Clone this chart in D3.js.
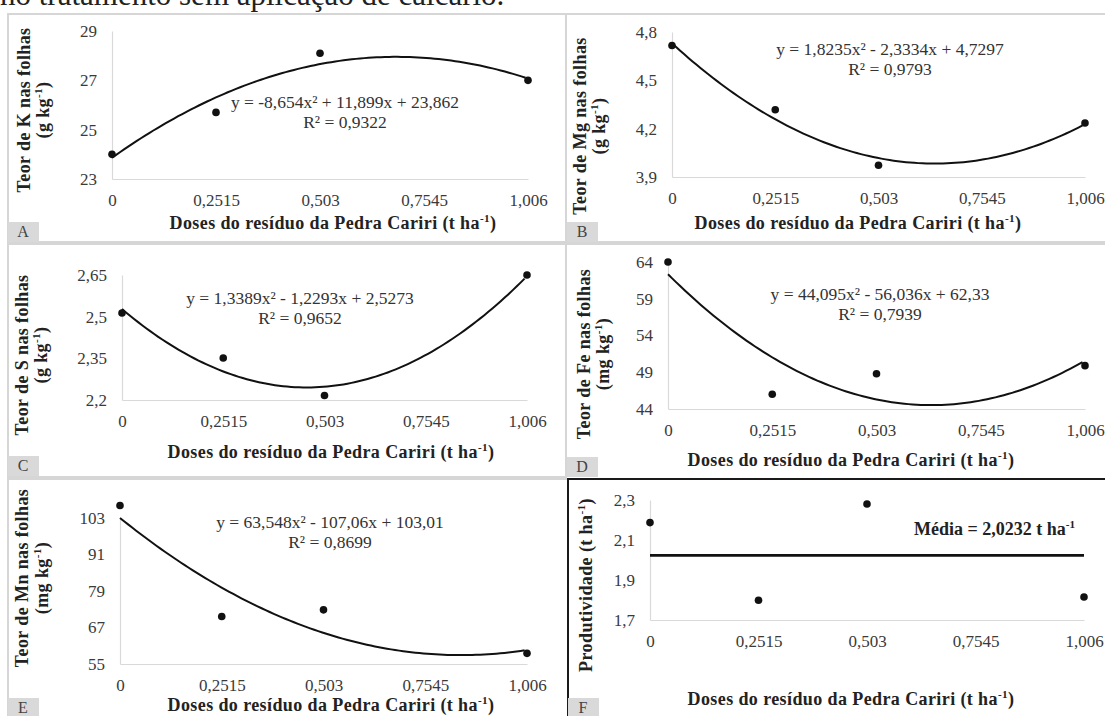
<!DOCTYPE html>
<html lang="pt">
<head>
<meta charset="UTF-8">
<title>Teores foliares e produtividade</title>
<script src="https://d3js.org/d3.v7.min.js"></script>
<style>
  body { margin: 0; background: #fff; }
  svg text { font-family: "Liberation Serif", "Times New Roman", serif; }
</style>
</head>
<body>
<script>
// doses do resíduo (t ha-1)
const doses = [0, 0.2515, 0.503, 1.006];
const xTicks = [0, 0.2515, 0.503, 0.7545, 1.006];
const xTickLabels = ["0", "0,2515", "0,503", "0,7545", "1,006"];

// valores observados
const kVals = [24.0, 25.7, 28.1, 27.0];
const mgVals = [4.716, 4.317, 3.973, 4.235];
const sVals = [2.513, 2.351, 2.216, 2.65];
const feVals = [64.0, 46.0, 48.8, 49.9];
const mnVals = [107.1, 70.6, 72.8, 58.5];
const prodVals = [2.187, 1.799, 2.28, 1.815];
const prodMean = 2.0232;

// eixos y
const kTicks = [23, 25, 27, 29];
const kTickLabels = ["23", "25", "27", "29"];
const mgTicks = [3.9, 4.2, 4.5, 4.8];
const mgTickLabels = ["3,9", "4,2", "4,5", "4,8"];
const sTicks = [2.2, 2.35, 2.5, 2.65];
const sTickLabels = ["2,2", "2,35", "2,5", "2,65"];
const feTicks = [44, 49, 54, 59, 64];
const feTickLabels = ["44", "49", "54", "59", "64"];
const mnTicks = [55, 67, 79, 91, 103];
const mnTickLabels = ["55", "67", "79", "91", "103"];
const prodTicks = [1.7, 1.9, 2.1, 2.3];
const prodTickLabels = ["1,7", "1,9", "2,1", "2,3"];

// coeficientes das regressões (a, b, c) de y = a x² + b x + c
const kCoef = [-8.654, 11.899, 23.862];
const mgCoef = [1.8235, -2.3334, 4.7297];
const sCoef = [1.3389, -1.2293, 2.5273];
const feCoef = [44.095, -56.036, 62.33];
const mnCoef = [63.548, -107.06, 103.01];

const width = 1105, height = 716;
const svg = d3.select("body").append("svg")
  .attr("width", width)
  .attr("height", height);

// linha de texto de cima (cortada na borda)
svg.append("text")
  .attr("x", 0).attr("y", 5)
  .attr("font-size", 31)
  .attr("fill", "#222")
  .text("no tratamento sem aplicação de calcário.");

const panels = [
  { id: "A", box: [8, 14, 566, 242], x0: 112, x1: 528, yTop: 31, yBot: 179,
    ticks: kTicks, labels: kTickLabels, vals: kVals, coef: kCoef,
    eq: "y = -8,654x² + 11,899x + 23,862", r2: "R² = 0,9322", eqX: 345, eqY: 108,
    yt: ["Teor de K nas folhas", "(g kg", ")"], ytX: [30, 49], ytY: 110, xtX: 333, xtY: 229 },
  { id: "B", box: [566, 14, 1106, 242], x0: 672, x1: 1085, yTop: 32, yBot: 177,
    ticks: mgTicks, labels: mgTickLabels, vals: mgVals, coef: mgCoef,
    eq: "y = 1,8235x² - 2,3334x + 4,7297", r2: "R² = 0,9793", eqX: 890, eqY: 55,
    yt: ["Teor de Mg nas folhas", "(g kg", ")"], ytX: [586, 605], ytY: 126, xtX: 858, xtY: 229 },
  { id: "C", box: [8, 244, 566, 477], x0: 122, x1: 527, yTop: 275, yBot: 400,
    ticks: sTicks, labels: sTickLabels, vals: sVals, coef: sCoef,
    eq: "y = 1,3389x² - 1,2293x + 2,5273", r2: "R² = 0,9652", eqX: 300, eqY: 304,
    yt: ["Teor de S nas folhas", "(g kg", ")"], ytX: [28, 47], ytY: 355, xtX: 331, xtY: 458 },
  { id: "D", box: [566, 244, 1106, 479], x0: 668, x1: 1085, yTop: 262, yBot: 409,
    ticks: feTicks, labels: feTickLabels, vals: feVals, coef: feCoef,
    eq: "y = 44,095x² - 56,036x + 62,33", r2: "R² = 0,7939", eqX: 880, eqY: 300,
    yt: ["Teor de Fe nas folhas", "(mg kg", ")"], ytX: [590, 609], ytY: 354, xtX: 851, xtY: 466 },
  { id: "E", box: [8, 479, 568, 722], x0: 120, x1: 527, yTop: 518, yBot: 664,
    ticks: mnTicks, labels: mnTickLabels, vals: mnVals, coef: mnCoef,
    eq: "y = 63,548x² - 107,06x + 103,01", r2: "R² = 0,8699", eqX: 330, eqY: 528,
    yt: ["Teor de Mn nas folhas", "(mg kg", ")"], ytX: [28, 48], ytY: 578, xtX: 331, xtY: 711 },
  { id: "F", box: [568, 479, 1108, 722], x0: 650, x1: 1084, yTop: 500, yBot: 620, dark: true,
    ticks: prodTicks, labels: prodTickLabels, vals: prodVals, mean: prodMean,
    yt: ["Produtividade (t ha", ")"], ytX: [592], ytY: 585, xtX: 851, xtY: 705 }
];

const labelBoxes = { A: [8, 222], B: [567, 222], C: [8, 456], D: [567, 457], E: [8, 698], F: [568, 698] };

function addTitle(sel, parts, fs) {
  sel.append("tspan").text(parts[0]);
  sel.append("tspan").attr("font-size", fs * 0.62).attr("dy", -7).text("-1");
  sel.append("tspan").attr("dy", 7).text(parts[1]);
}

panels.forEach(p => {
  const g = svg.append("g");

  g.append("rect")
    .attr("x", p.box[0]).attr("y", p.box[1])
    .attr("width", p.box[2] - p.box[0]).attr("height", p.box[3] - p.box[1])
    .attr("fill", "none")
    .attr("stroke", p.dark ? "#1a1a1a" : "#d6d6d6")
    .attr("stroke-width", 2);

  const x = d3.scaleLinear().domain([0, 1.006]).range([p.x0, p.x1]);
  const y = d3.scaleLinear()
    .domain([p.ticks[0], p.ticks[p.ticks.length - 1]])
    .range([p.yBot, p.yTop]);

  const xAxis = g.append("g")
    .attr("transform", `translate(0,${p.yBot})`)
    .call(d3.axisBottom(x).tickValues(xTicks)
      .tickFormat((d, i) => xTickLabels[i]).tickSize(0).tickPadding(15));
  const yAxis = g.append("g")
    .attr("transform", `translate(${p.x0},0)`)
    .call(d3.axisLeft(y).tickValues(p.ticks)
      .tickFormat((d, i) => p.labels[i]).tickSize(0).tickPadding(15));

  [xAxis, yAxis].forEach(a => {
    a.select(".domain").attr("stroke", "#d9d9d9").attr("stroke-width", 1.2);
    a.selectAll("text")
      .attr("font-family", "Liberation Serif")
      .attr("font-size", 17)
      .attr("fill", "#3a3a3a");
  });

  // curva de regressão ou linha da média
  if (p.coef) {
    const line = d3.line()
      .x(d => x(d))
      .y(d => y(p.coef[0] * d * d + p.coef[1] * d + p.coef[2]));
    g.append("path")
      .datum(d3.range(0, 1.0061, 0.01))
      .attr("d", line)
      .attr("fill", "none")
      .attr("stroke", "#111")
      .attr("stroke-width", 2);
  } else {
    g.append("line")
      .attr("x1", x(0)).attr("x2", x(1.006))
      .attr("y1", y(p.mean)).attr("y2", y(p.mean))
      .attr("stroke", "#111")
      .attr("stroke-width", 2.8);
    const t = g.append("text")
      .attr("x", x(1.006) - 9).attr("y", y(2.125))
      .attr("text-anchor", "end")
      .attr("font-size", 18).attr("font-weight", "bold")
      .attr("fill", "#222");
    addTitle(t, ["Média = 2,0232 t ha", ""], 18);
  }

  g.selectAll("circle.pt")
    .data(p.vals)
    .join("circle")
    .attr("class", "pt")
    .attr("cx", (d, i) => x(doses[i]))
    .attr("cy", d => y(d))
    .attr("r", 3.8)
    .attr("fill", "#111");

  if (p.eq) {
    g.append("text")
      .attr("x", p.eqX).attr("y", p.eqY)
      .attr("text-anchor", "middle")
      .attr("font-size", 17.5).attr("fill", "#333")
      .text(p.eq);
    g.append("text")
      .attr("x", p.eqX).attr("y", p.eqY + 20)
      .attr("text-anchor", "middle")
      .attr("font-size", 17.5).attr("fill", "#333")
      .text(p.r2);
  }

  // título do eixo y (rotacionado)
  const tfs = 18;
  if (p.yt.length === 3) {
    g.append("text")
      .attr("transform", `translate(${p.ytX[0]},${p.ytY}) rotate(-90)`)
      .attr("text-anchor", "middle")
      .attr("font-size", tfs).attr("font-weight", "bold").attr("fill", "#222")
      .attr("letter-spacing", 0.4)
      .text(p.yt[0]);
    const t2 = g.append("text")
      .attr("transform", `translate(${p.ytX[1]},${p.ytY}) rotate(-90)`)
      .attr("text-anchor", "middle")
      .attr("font-size", tfs).attr("font-weight", "bold").attr("fill", "#222")
      .attr("letter-spacing", 0.4);
    addTitle(t2, [p.yt[1], p.yt[2]], tfs);
  } else {
    const t = g.append("text")
      .attr("transform", `translate(${p.ytX[0]},${p.ytY}) rotate(-90)`)
      .attr("text-anchor", "middle")
      .attr("font-size", tfs).attr("font-weight", "bold").attr("fill", "#222")
      .attr("letter-spacing", 0.4);
    addTitle(t, p.yt, tfs);
  }

  // título do eixo x
  const xt = g.append("text")
    .attr("x", p.xtX).attr("y", p.xtY)
    .attr("text-anchor", "middle")
    .attr("font-size", tfs).attr("font-weight", "bold").attr("fill", "#222")
    .attr("letter-spacing", 0.4);
  addTitle(xt, ["Doses do resíduo da Pedra Cariri (t ha", ")"], tfs);

  // etiqueta da letra
  const lb = labelBoxes[p.id];
  g.append("rect")
    .attr("x", lb[0]).attr("y", lb[1])
    .attr("width", 31).attr("height", 20)
    .attr("fill", "#d9d9d9");
  g.append("text")
    .attr("x", lb[0] + 15).attr("y", lb[1] + 15)
    .attr("text-anchor", "middle")
    .attr("font-size", 16).attr("fill", "#444")
    .text(p.id);
});
</script>
</body>
</html>
